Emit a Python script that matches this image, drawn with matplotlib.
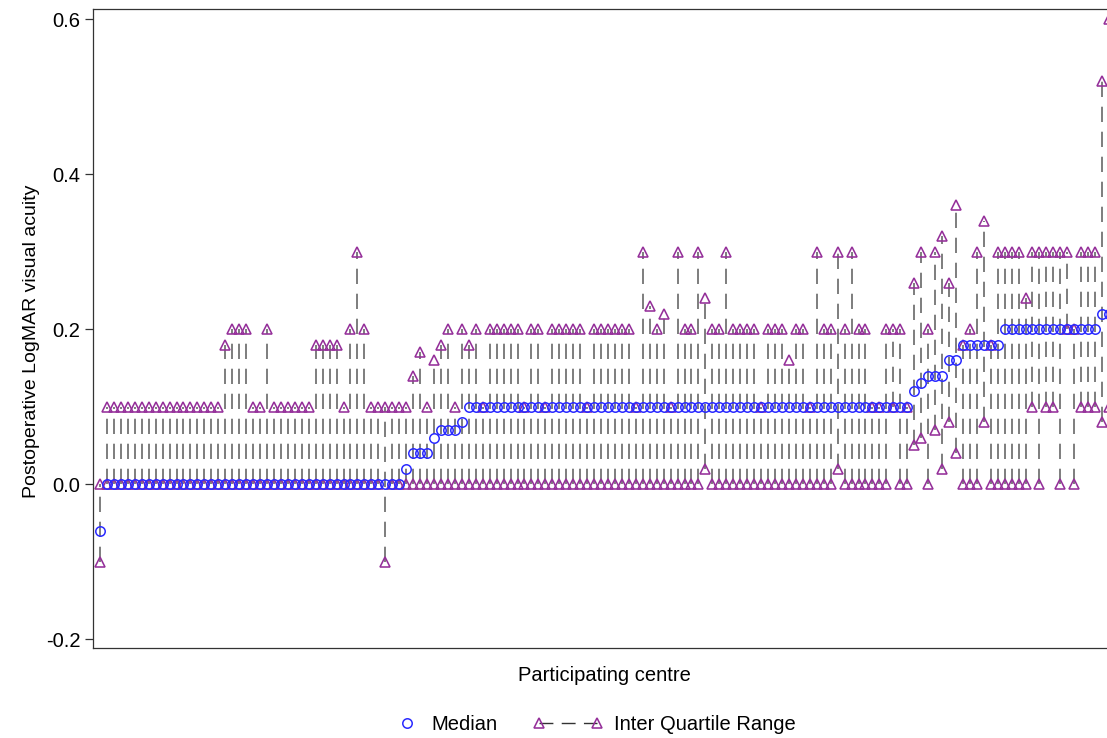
import matplotlib
matplotlib.use('Agg')
import matplotlib.pyplot as plt
from matplotlib.lines import Line2D
import numpy as np

plt.rcParams['font.family'] = ['Liberation Sans', 'DejaVu Sans']
plt.rcParams['lines.scale_dashes'] = False

# one entry per participating centre, ordered by median
median = [
    -0.06, 0, 0, 0, 0, 0, 0, 0, 0, 0,
    0, 0, 0, 0, 0, 0, 0, 0, 0, 0,
    0, 0, 0, 0, 0, 0, 0, 0, 0, 0,
    0, 0, 0, 0, 0, 0, 0, 0, 0, 0,
    0, 0, 0, 0, 0.02, 0.04, 0.04, 0.04, 0.06, 0.07,
    0.07, 0.07, 0.08, 0.1, 0.1, 0.1, 0.1, 0.1, 0.1, 0.1,
    0.1, 0.1, 0.1, 0.1, 0.1, 0.1, 0.1, 0.1, 0.1, 0.1,
    0.1, 0.1, 0.1, 0.1, 0.1, 0.1, 0.1, 0.1, 0.1, 0.1,
    0.1, 0.1, 0.1, 0.1, 0.1, 0.1, 0.1, 0.1, 0.1, 0.1,
    0.1, 0.1, 0.1, 0.1, 0.1, 0.1, 0.1, 0.1, 0.1, 0.1,
    0.1, 0.1, 0.1, 0.1, 0.1, 0.1, 0.1, 0.1, 0.1, 0.1,
    0.1, 0.1, 0.1, 0.1, 0.1, 0.1, 0.1, 0.12, 0.13, 0.14,
    0.14, 0.14, 0.16, 0.16, 0.18, 0.18, 0.18, 0.18, 0.18, 0.18,
    0.2, 0.2, 0.2, 0.2, 0.2, 0.2, 0.2, 0.2, 0.2, 0.2,
    0.2, 0.2, 0.2, 0.2, 0.22, 0.22,
]

lower_q = [
    -0.1, 0, 0, 0, 0, 0, 0, 0, 0, 0,
    0, 0, 0, 0, 0, 0, 0, 0, 0, 0,
    0, 0, 0, 0, 0, 0, 0, 0, 0, 0,
    0, 0, 0, 0, 0, 0, 0, 0, 0, 0,
    0, -0.1, 0, 0, 0, 0, 0, 0, 0, 0,
    0, 0, 0, 0, 0, 0, 0, 0, 0, 0,
    0, 0, 0, 0, 0, 0, 0, 0, 0, 0,
    0, 0, 0, 0, 0, 0, 0, 0, 0, 0,
    0, 0, 0, 0, 0, 0, 0, 0.02, 0, 0,
    0, 0, 0, 0, 0, 0, 0, 0, 0, 0,
    0, 0, 0, 0, 0, 0, 0.02, 0, 0, 0,
    0, 0, 0, 0, 0.1, 0, 0, 0.05, 0.06, 0,
    0.07, 0.02, 0.08, 0.04, 0, 0, 0, 0.08, 0, 0,
    0, 0, 0, 0, 0.1, 0, 0.1, 0.1, 0, 0.2,
    0, 0.1, 0.1, 0.1, 0.08, 0.1,
]

upper_q = [
    0, 0.1, 0.1, 0.1, 0.1, 0.1, 0.1, 0.1, 0.1, 0.1,
    0.1, 0.1, 0.1, 0.1, 0.1, 0.1, 0.1, 0.1, 0.18, 0.2,
    0.2, 0.2, 0.1, 0.1, 0.2, 0.1, 0.1, 0.1, 0.1, 0.1,
    0.1, 0.18, 0.18, 0.18, 0.18, 0.1, 0.2, 0.3, 0.2, 0.1,
    0.1, 0.1, 0.1, 0.1, 0.1, 0.14, 0.17, 0.1, 0.16, 0.18,
    0.2, 0.1, 0.2, 0.18, 0.2, 0.1, 0.2, 0.2, 0.2, 0.2,
    0.2, 0.1, 0.2, 0.2, 0.1, 0.2, 0.2, 0.2, 0.2, 0.2,
    0.1, 0.2, 0.2, 0.2, 0.2, 0.2, 0.2, 0.1, 0.3, 0.23,
    0.2, 0.22, 0.1, 0.3, 0.2, 0.2, 0.3, 0.24, 0.2, 0.2,
    0.3, 0.2, 0.2, 0.2, 0.2, 0.1, 0.2, 0.2, 0.2, 0.16,
    0.2, 0.2, 0.1, 0.3, 0.2, 0.2, 0.3, 0.2, 0.3, 0.2,
    0.2, 0.1, 0.1, 0.2, 0.2, 0.2, 0.1, 0.26, 0.3, 0.2,
    0.3, 0.32, 0.26, 0.36, 0.18, 0.2, 0.3, 0.34, 0.18, 0.3,
    0.3, 0.3, 0.3, 0.24, 0.3, 0.3, 0.3, 0.3, 0.3, 0.3,
    0.2, 0.3, 0.3, 0.3, 0.52, 0.6,
]

yticks = [-0.2, 0.0, 0.2, 0.4, 0.6]

BLUE = '#2a2aff'
PURPLE = '#95309a'
GREY = '#5a5a5a'
FS = 14.5
TRI_MS = 7.0
CIRC_MS = 6.8


def drawCentres(ax):
    centre = np.arange(len(median))
    ax.vlines(centre, lower_q, upper_q, colors=GREY, linewidth=1.1,
              linestyles=(0, (11, 7)), zorder=1)
    ax.plot(centre, lower_q, ls='none', marker='^', ms=TRI_MS, mfc='none',
            mec=PURPLE, mew=1.15, zorder=2)
    ax.plot(centre, upper_q, ls='none', marker='^', ms=TRI_MS, mfc='none',
            mec=PURPLE, mew=1.15, zorder=2)
    ax.plot(centre, median, ls='none', marker='o', ms=CIRC_MS, mfc='none',
            mec=BLUE, mew=1.1, zorder=3)
    ax.set_xlim(-1, len(median))


def drawLegend(fig):
    medHandle = Line2D([], [], ls='none', marker='o', ms=CIRC_MS, mfc='none',
                       mec=BLUE, mew=1.1)
    iqrHandle = Line2D([], [], color='#333333', lw=1.0, ls=(0, (10, 6)),
                       marker='^', ms=TRI_MS, mfc='none', mec=PURPLE, mew=1.15)
    y = 1 - 725 / 738
    fig.legend([medHandle], ['Median'], loc='center left',
               bbox_to_anchor=(395 / 1107, y), frameon=False, fontsize=FS,
               handlelength=1.2, handletextpad=0.6, numpoints=1,
               borderaxespad=0, borderpad=0)
    fig.legend([iqrHandle], ['Inter Quartile Range'], loc='center left',
               bbox_to_anchor=(533 / 1107, y), frameon=False, fontsize=FS,
               handlelength=3.5, handletextpad=0.5, numpoints=2,
               borderaxespad=0, borderpad=0)


fig = plt.figure(figsize=(11.07, 7.38), dpi=100)
ax = fig.add_axes([93 / 1107, 1 - 648 / 738, 1023 / 1107, 639 / 738])

drawCentres(ax)

ax.set_ylim(-0.2116, 0.613)
ax.set_yticks(yticks)
ax.set_yticklabels(['%.1f' % t for t in yticks])
ax.set_xticks([])
ax.tick_params(axis='y', labelsize=FS, length=5.5, width=0.9, pad=3.5,
               color='#333333')
for side in ['left', 'bottom', 'top', 'right']:
    ax.spines[side].set_color('#333333')
    ax.spines[side].set_linewidth(0.9)

ax.set_ylabel('Postoperative LogMAR visual acuity', fontsize=FS - 0.5)
ax.yaxis.set_label_coords(-0.0515, 0.48)
ax.set_xlabel('Participating centre', fontsize=FS)
ax.xaxis.set_label_coords(0.5, -0.028)

drawLegend(fig)

fig.savefig('out.png', dpi=100)
